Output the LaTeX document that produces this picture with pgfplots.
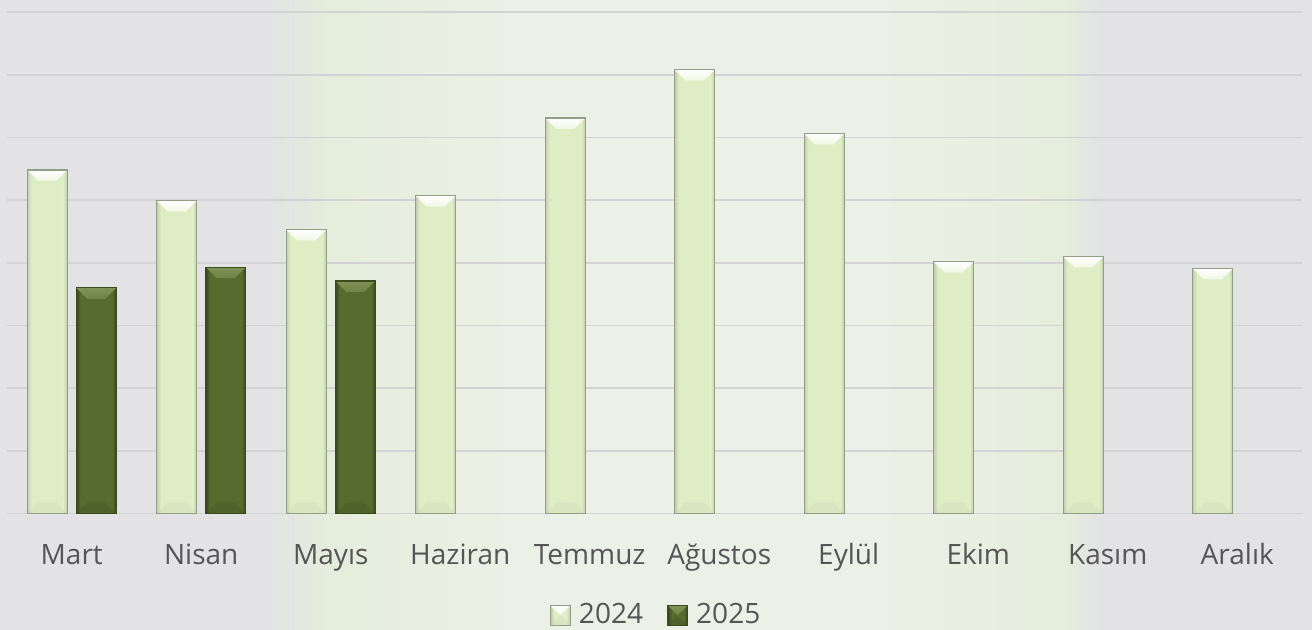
\documentclass[border=0pt]{standalone}
\usepackage{pgfplots}
\pgfplotsset{compat=1.18}
\usepackage{fontspec}
\setmainfont{Open Sans}
\definecolor{bgG}{HTML}{E3E3E5}
\definecolor{bgL}{HTML}{E5EDDC}
\definecolor{bgW}{HTML}{ECF1E7}
\definecolor{gridc}{HTML}{D3D3D6}
\definecolor{lg}{HTML}{DFEDC5}
\definecolor{lgE}{HTML}{939F85}
\definecolor{dg}{HTML}{566B2D}
\definecolor{dgT}{HTML}{7E9355}
\definecolor{dgE}{HTML}{3A4A1C}
\definecolor{txt}{HTML}{555555}
\pgfdeclarehorizontalshading{bgshade}{100bp}{color(0bp)=(bgG); color(25bp)=(bgG); color(35.2bp)=(bgG); color(37.5bp)=(bgL); color(45bp)=(bgW); color(58bp)=(bgW); color(65.6bp)=(bgL); color(66.9bp)=(bgG); color(75bp)=(bgG); color(100bp)=(bgG)}
\def\bevelflag{0}
\tikzset{
  bevel/.style n args={5}{path picture={%
    \ifnum\bevelflag=0\relax
    \def\bevelflag{1}%
    \pgftransformreset
    \coordinate (bSW) at (path picture bounding box.south west);
    \coordinate (bNE) at (path picture bounding box.north east);
    \coordinate (bNW) at (path picture bounding box.north west);
    \coordinate (bSE) at (path picture bounding box.south east);
    \path[draw=none, left color=#3, right color=#1] (bSW) rectangle ([xshift=2pt]bNW);
    \path[draw=none, left color=#1, right color=#3] ([xshift=-2pt]bSE) rectangle (bNE);
    \path[draw=none, top color=#2, bottom color=#5] (bNW) -- (bNE) -- ([xshift=-#4,yshift=-#4]bNE) -- ([xshift=#4,yshift=-#4]bNW) -- cycle;
    \path[draw=none, fill=#3, fill opacity=0.22] (bSW) -- (bSE) -- ([xshift=-#4,yshift=#4]bSE) -- ([xshift=#4,yshift=#4]bSW) -- cycle;
    \fi
  }},
  lbar/.style={bar shift=-12.25pt, fill=lg, draw=lgE, line width=0.6pt, bevel={lg}{white}{lg!70!gray}{5.5pt}{white!55!lg}},
  dbar/.style={bar shift=12.25pt, fill=dg, draw=dgE, line width=0.6pt, bevel={dg}{dgT}{dg!65!black}{5.5pt}{dgT!60!dg}},
}
\begin{document}
\begin{tikzpicture}[x=0.5pt,y=0.5pt]
\useasboundingbox (0,0) rectangle (1312,629);
\shade[shading=bgshade] (0,0) rectangle (1312,629);
\begin{axis}[
  at={(3.5pt,57.75pt)}, anchor=south west,
  scale only axis, width=647.5pt, height=250.75pt,
  xmin=-0.5, xmax=9.5, ymin=0, ymax=8,
  ytick={0,1,...,8}, yticklabels={},
  ymajorgrids, grid style={gridc, line width=0.8pt},
  major tick length=0pt,
  axis line style={draw=none},
  xtick={0,...,9},
  xticklabels={Mart,Nisan,Mayıs,Haziran,Temmuz,Ağustos,Eylül,Ekim,Kasım,Aralık},
  xticklabel style={anchor=base, yshift=-25.25pt, font=\fontsize{14}{17}\selectfont, text=txt},
  ybar, bar width=20pt,
  legend style={at={(0.5035,-0.203)}, anchor=center, draw=none, fill=none,
    font=\fontsize{14}{17}\selectfont, text=txt,
    nodes={inner xsep=4pt, inner ysep=0pt},
    /tikz/every even column/.append style={column sep=8pt}},
  legend columns=2,
  legend image code/.code={\path[#1] (0pt,-5pt) rectangle (10pt,5pt);},
]
% 2024
\addplot[lbar] coordinates {(0,5.48)};
% 2025
\addplot[dbar] coordinates {(0,3.60)};
\addplot[dbar, forget plot] coordinates {(1,3.93)};
\addplot[dbar, forget plot] coordinates {(2,3.71)};
% 2024, remaining months
\addplot[lbar, forget plot] coordinates {(1,4.99)};
\addplot[lbar, forget plot] coordinates {(2,4.53)};
\addplot[lbar, forget plot] coordinates {(3,5.07)};
\addplot[lbar, forget plot] coordinates {(4,6.31)};
\addplot[lbar, forget plot] coordinates {(5,7.08)};
\addplot[lbar, forget plot] coordinates {(6,6.06)};
\addplot[lbar, forget plot] coordinates {(7,4.02)};
\addplot[lbar, forget plot] coordinates {(8,4.10)};
\addplot[lbar, forget plot] coordinates {(9,3.91)};
\legend{2024,2025}
\end{axis}
\end{tikzpicture}
\end{document}
